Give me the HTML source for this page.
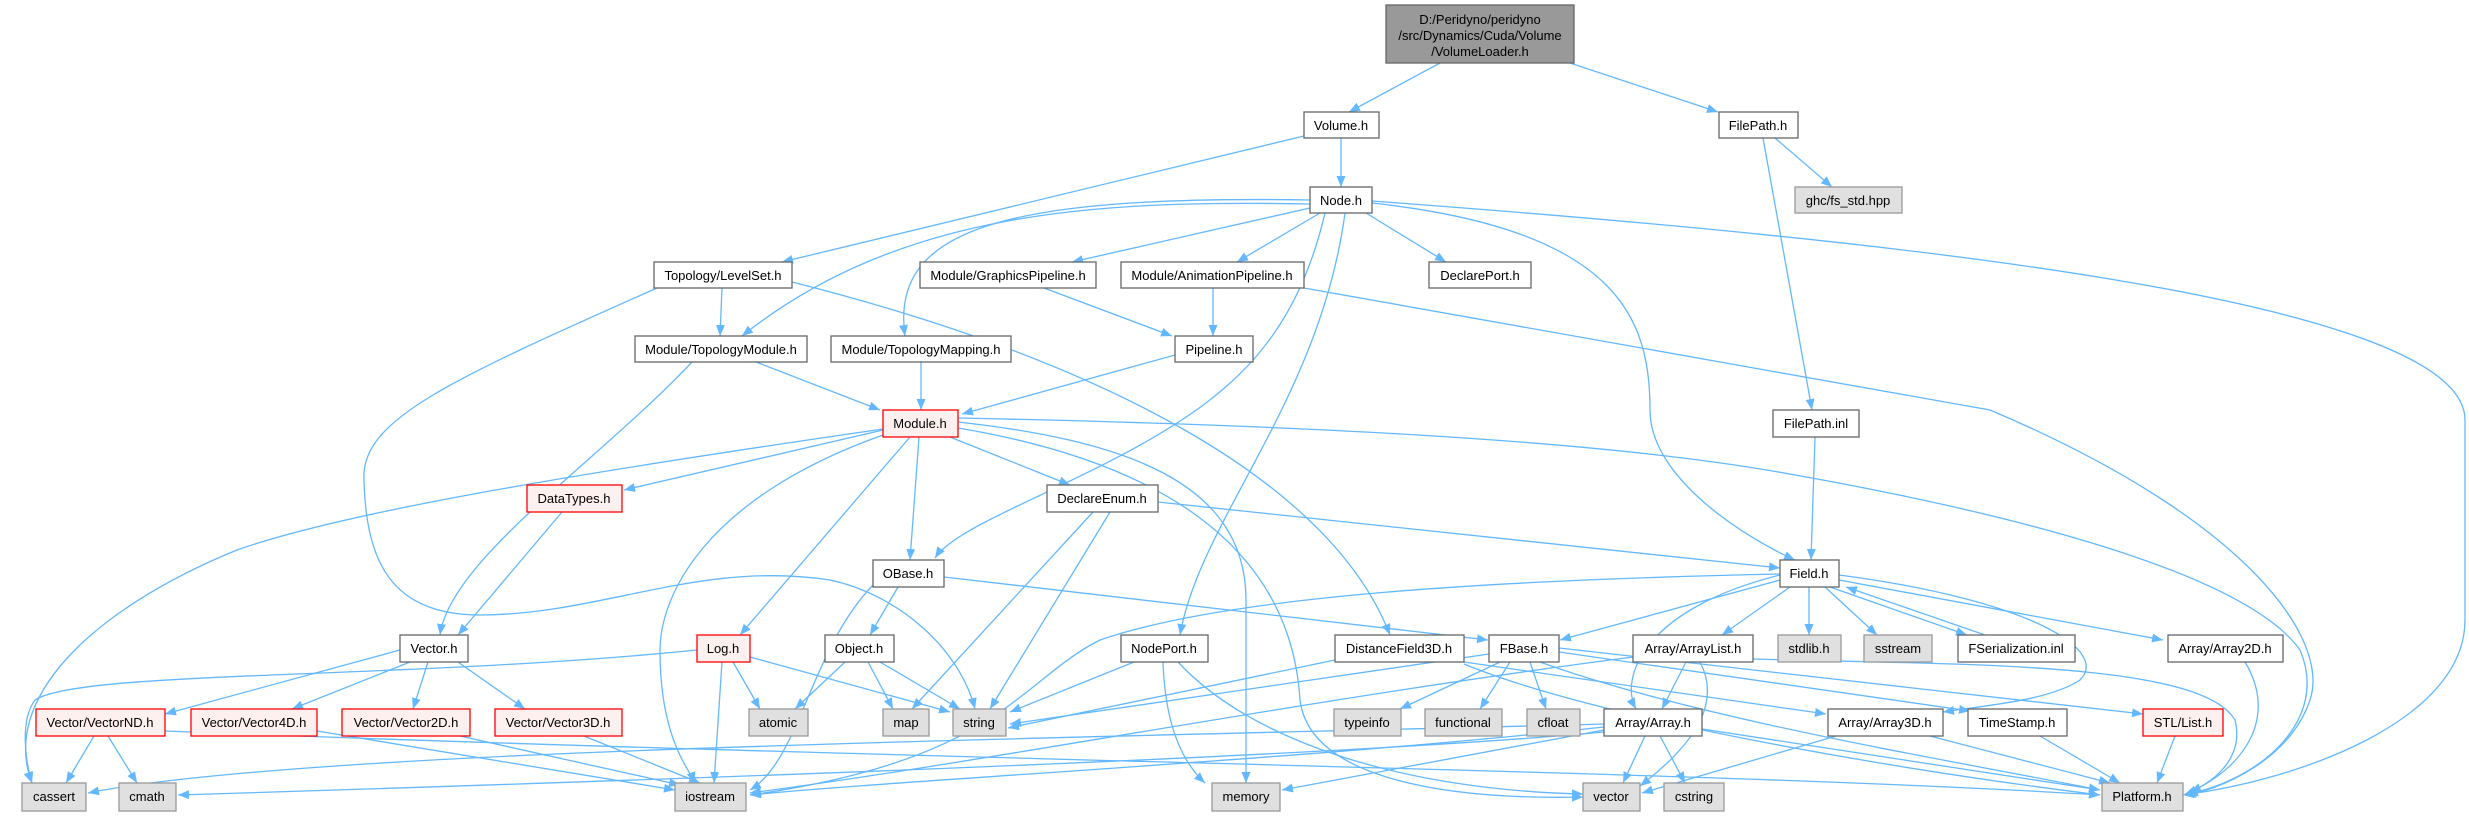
<!DOCTYPE html>
<html><head><meta charset="utf-8"><style>
html,body{margin:0;padding:0;background:#fff;}
svg{display:block;}
text{font-family:"Liberation Sans",sans-serif;font-size:13px;fill:#000;}
.e{fill:none;stroke:#63b8ff;stroke-width:1.3;marker-end:url(#a);}
.n rect{fill:#fff;stroke:#666;stroke-width:1.3;}
.r rect{fill:#fff0f0;stroke:#ff0000;stroke-width:1.3;}
.g rect{fill:#e0e0e0;stroke:#999;stroke-width:1.3;}
</style></head><body>
<svg width="2469" height="816" viewBox="0 0 2469 816" xmlns="http://www.w3.org/2000/svg">
<defs><marker id="a" markerUnits="userSpaceOnUse" markerWidth="12" markerHeight="9" refX="11" refY="4.5" orient="auto"><path d="M0,0 L11,4.5 L0,9 z" fill="#63b8ff"/></marker></defs>
<g>
<path class="e" d="M1440,63 L1349,112"/>
<path class="e" d="M1570,63 L1718,112"/>
<path class="e" d="M1304,136 L782,262"/>
<path class="e" d="M1341,138 L1341,187"/>
<path class="e" d="M1775,138 L1832,187"/>
<path class="e" d="M1763,138 L1812,410"/>
<path class="e" d="M1310,208 L1072,262"/>
<path class="e" d="M1320,213 L1237,262"/>
<path class="e" d="M1366,213 L1446,262"/>
<path class="e" d="M1310,204 C1100,200 900,210 742,336"/>
<path class="e" d="M1310,200 C1000,195 890,230 905,336"/>
<path class="e" d="M1325,213 C1300,320 1250,370 1202,406 C1100,480 960,520 935,558"/>
<path class="e" d="M1345,213 C1320,400 1200,520 1180,635"/>
<path class="e" d="M1372,203 C1620,230 1650,320 1650,410 C1650,480 1750,540 1795,560"/>
<path class="e" d="M1372,201 C1900,240 2465,300 2465,420 L2465,620 C2465,720 2300,780 2183,795"/>
<path class="e" d="M722,288 L720,336"/>
<path class="e" d="M657,288 C450,380 360,420 364,480 C366,560 390,615 480,615 C600,615 700,560 830,580 C900,595 960,650 975,709"/>
<path class="e" d="M792,282 C1100,360 1330,480 1390,635"/>
<path class="e" d="M1044,288 L1172,336"/>
<path class="e" d="M1213,288 L1213,336"/>
<path class="e" d="M1304,288 L1990,410 C2250,520 2330,640 2310,700 C2290,760 2220,790 2185,795"/>
<path class="e" d="M756,362 L880,410"/>
<path class="e" d="M692,362 C600,460 450,560 440,635"/>
<path class="e" d="M921,362 L921,410"/>
<path class="e" d="M1175,355 L962,414"/>
<path class="e" d="M1815,437 L1811,560"/>
<path class="e" d="M883,430 L624,490"/>
<path class="e" d="M950,437 L1070,485"/>
<path class="e" d="M919,437 L910,560"/>
<path class="e" d="M910,437 L740,635"/>
<path class="e" d="M883,429 C600,470 350,510 237,550 C90,610 0,700 32,783"/>
<path class="e" d="M883,435 C700,500 660,600 660,650 C660,740 690,770 695,783"/>
<path class="e" d="M958,422 C1120,440 1246,480 1246,600 L1246,783"/>
<path class="e" d="M958,428 C1150,460 1290,540 1300,700 C1310,780 1450,800 1583,797"/>
<path class="e" d="M958,418 C1300,425 1600,440 1784,473 C2050,520 2250,580 2300,650 C2330,720 2260,780 2187,794"/>
<path class="e" d="M562,512 L458,635"/>
<path class="e" d="M1158,502 L1780,568"/>
<path class="e" d="M1093,512 L912,709"/>
<path class="e" d="M1110,512 L990,709"/>
<path class="e" d="M898,587 L870,635"/>
<path class="e" d="M944,577 L1488,640"/>
<path class="e" d="M873,585 C810,650 800,760 750,790"/>
<path class="e" d="M400,650 L165,714"/>
<path class="e" d="M410,662 L292,709"/>
<path class="e" d="M428,662 L413,709"/>
<path class="e" d="M458,662 L525,709"/>
<path class="e" d="M697,650 C400,680 80,670 35,700 C20,720 25,760 32,783"/>
<path class="e" d="M733,662 L760,709"/>
<path class="e" d="M722,662 L714,783"/>
<path class="e" d="M750,657 L950,712"/>
<path class="e" d="M845,662 L795,709"/>
<path class="e" d="M868,662 L893,709"/>
<path class="e" d="M880,662 L960,709"/>
<path class="e" d="M1134,662 L1010,712"/>
<path class="e" d="M1163,662 C1165,720 1180,760 1205,783"/>
<path class="e" d="M1178,662 C1250,740 1400,790 1583,794"/>
<path class="e" d="M1335,660 L1008,728"/>
<path class="e" d="M1464,662 L1826,714"/>
<path class="e" d="M1464,664 C1600,720 1900,770 2100,795"/>
<path class="e" d="M1780,580 L1560,640"/>
<path class="e" d="M1790,587 L1722,635"/>
<path class="e" d="M1809,587 L1809,635"/>
<path class="e" d="M1825,587 L1877,635"/>
<path class="e" d="M1830,587 L1967,635"/>
<path class="e" d="M1985,635 L1846,587"/>
<path class="e" d="M1839,580 L2163,640"/>
<path class="e" d="M1780,575 C1640,610 1620,680 1636,709"/>
<path class="e" d="M1839,575 C2030,600 2110,650 2080,680 C2050,700 1990,705 1943,712"/>
<path class="e" d="M1780,574 C1500,580 1230,595 1100,640 C1020,680 1000,760 750,795"/>
<path class="e" d="M1500,662 L1400,709"/>
<path class="e" d="M1510,662 L1480,709"/>
<path class="e" d="M1530,662 L1546,709"/>
<path class="e" d="M1489,654 L1010,724"/>
<path class="e" d="M1559,652 L1970,711"/>
<path class="e" d="M1559,648 L2143,714"/>
<path class="e" d="M1540,662 C1700,720 1950,760 2100,790"/>
<path class="e" d="M1686,662 L1662,709"/>
<path class="e" d="M1700,662 C1720,700 1700,740 1640,786"/>
<path class="e" d="M1753,659 C1950,665 2200,660 2235,720 C2245,760 2210,785 2185,794"/>
<path class="e" d="M1633,657 C1300,700 1000,760 750,793"/>
<path class="e" d="M1645,736 L1623,783"/>
<path class="e" d="M1660,736 L1685,783"/>
<path class="e" d="M1604,730 L1282,790"/>
<path class="e" d="M1604,727 C1300,760 900,780 750,795"/>
<path class="e" d="M1604,724 C1000,740 300,750 88,793"/>
<path class="e" d="M1604,732 C1300,760 500,785 178,795"/>
<path class="e" d="M1702,729 L2100,790"/>
<path class="e" d="M1836,736 L1642,793"/>
<path class="e" d="M1930,736 L2110,783"/>
<path class="e" d="M2040,736 L2120,783"/>
<path class="e" d="M2175,736 L2157,783"/>
<path class="e" d="M2245,662 C2280,720 2240,770 2190,792"/>
<path class="e" d="M94,736 L66,783"/>
<path class="e" d="M108,736 L137,783"/>
<path class="e" d="M165,731 C900,760 1700,770 2100,795"/>
<path class="e" d="M317,731 L675,790"/>
<path class="e" d="M460,736 L680,785"/>
<path class="e" d="M584,736 L700,783"/>
</g>
<g text-anchor="middle">
<g><rect x="1386" y="5" width="188" height="58" fill="#999" stroke="#666" stroke-width="1.3"/><text x="1480" y="24">D:/Peridyno/peridyno</text><text x="1480" y="40">/src/Dynamics/Cuda/Volume</text><text x="1480" y="56">/VolumeLoader.h</text></g>
<g class="n"><rect x="1304" y="112" width="75" height="26"/><text x="1341" y="130">Volume.h</text></g>
<g class="n"><rect x="1719" y="112" width="79" height="26"/><text x="1758" y="130">FilePath.h</text></g>
<g class="n"><rect x="1310" y="187" width="62" height="26"/><text x="1341" y="205">Node.h</text></g>
<g class="g"><rect x="1795" y="187" width="107" height="26"/><text x="1848" y="205">ghc/fs_std.hpp</text></g>
<g class="n"><rect x="654" y="262" width="138" height="26"/><text x="723" y="280">Topology/LevelSet.h</text></g>
<g class="n"><rect x="920" y="262" width="176" height="26"/><text x="1008" y="280">Module/GraphicsPipeline.h</text></g>
<g class="n"><rect x="1121" y="262" width="183" height="26"/><text x="1212" y="280">Module/AnimationPipeline.h</text></g>
<g class="n"><rect x="1429" y="262" width="102" height="26"/><text x="1480" y="280">DeclarePort.h</text></g>
<g class="n"><rect x="635" y="336" width="172" height="26"/><text x="721" y="354">Module/TopologyModule.h</text></g>
<g class="n"><rect x="831" y="336" width="180" height="26"/><text x="921" y="354">Module/TopologyMapping.h</text></g>
<g class="n"><rect x="1175" y="336" width="78" height="26"/><text x="1214" y="354">Pipeline.h</text></g>
<g class="n"><rect x="1773" y="410" width="86" height="27"/><text x="1816" y="428">FilePath.inl</text></g>
<g class="r"><rect x="883" y="410" width="75" height="27"/><text x="920" y="428">Module.h</text></g>
<g class="r"><rect x="527" y="485" width="95" height="27"/><text x="574" y="503">DataTypes.h</text></g>
<g class="n"><rect x="1047" y="485" width="111" height="27"/><text x="1102" y="503">DeclareEnum.h</text></g>
<g class="n"><rect x="873" y="560" width="71" height="27"/><text x="908" y="578">OBase.h</text></g>
<g class="n"><rect x="1780" y="560" width="59" height="27"/><text x="1809" y="578">Field.h</text></g>
<g class="n"><rect x="400" y="635" width="68" height="27"/><text x="434" y="653">Vector.h</text></g>
<g class="r"><rect x="697" y="635" width="53" height="27"/><text x="723" y="653">Log.h</text></g>
<g class="n"><rect x="825" y="635" width="69" height="27"/><text x="859" y="653">Object.h</text></g>
<g class="n"><rect x="1121" y="635" width="87" height="27"/><text x="1164" y="653">NodePort.h</text></g>
<g class="n"><rect x="1335" y="635" width="129" height="27"/><text x="1399" y="653">DistanceField3D.h</text></g>
<g class="n"><rect x="1489" y="635" width="70" height="27"/><text x="1524" y="653">FBase.h</text></g>
<g class="n"><rect x="1633" y="635" width="120" height="27"/><text x="1693" y="653">Array/ArrayList.h</text></g>
<g class="g"><rect x="1778" y="635" width="63" height="27"/><text x="1809" y="653">stdlib.h</text></g>
<g class="g"><rect x="1864" y="635" width="68" height="27"/><text x="1898" y="653">sstream</text></g>
<g class="n"><rect x="1958" y="635" width="117" height="27"/><text x="2016" y="653">FSerialization.inl</text></g>
<g class="n"><rect x="2168" y="635" width="115" height="27"/><text x="2225" y="653">Array/Array2D.h</text></g>
<g class="r"><rect x="36" y="709" width="129" height="27"/><text x="100" y="727">Vector/VectorND.h</text></g>
<g class="r"><rect x="191" y="709" width="126" height="27"/><text x="254" y="727">Vector/Vector4D.h</text></g>
<g class="r"><rect x="342" y="709" width="128" height="27"/><text x="406" y="727">Vector/Vector2D.h</text></g>
<g class="r"><rect x="495" y="709" width="127" height="27"/><text x="558" y="727">Vector/Vector3D.h</text></g>
<g class="g"><rect x="749" y="709" width="59" height="27"/><text x="778" y="727">atomic</text></g>
<g class="g"><rect x="883" y="709" width="46" height="27"/><text x="906" y="727">map</text></g>
<g class="g"><rect x="953" y="709" width="53" height="27"/><text x="979" y="727">string</text></g>
<g class="g"><rect x="1334" y="709" width="67" height="27"/><text x="1367" y="727">typeinfo</text></g>
<g class="g"><rect x="1425" y="709" width="77" height="27"/><text x="1463" y="727">functional</text></g>
<g class="g"><rect x="1527" y="709" width="53" height="27"/><text x="1553" y="727">cfloat</text></g>
<g class="n"><rect x="1604" y="709" width="98" height="27"/><text x="1653" y="727">Array/Array.h</text></g>
<g class="n"><rect x="1828" y="709" width="115" height="27"/><text x="1885" y="727">Array/Array3D.h</text></g>
<g class="n"><rect x="1968" y="709" width="99" height="27"/><text x="2017" y="727">TimeStamp.h</text></g>
<g class="r"><rect x="2143" y="709" width="80" height="27"/><text x="2183" y="727">STL/List.h</text></g>
<g class="g"><rect x="22" y="783" width="64" height="28"/><text x="54" y="801">cassert</text></g>
<g class="g"><rect x="119" y="783" width="57" height="28"/><text x="147" y="801">cmath</text></g>
<g class="g"><rect x="675" y="783" width="71" height="28"/><text x="710" y="801">iostream</text></g>
<g class="g"><rect x="1212" y="783" width="68" height="28"/><text x="1246" y="801">memory</text></g>
<g class="g"><rect x="1583" y="783" width="57" height="28"/><text x="1611" y="801">vector</text></g>
<g class="g"><rect x="1664" y="783" width="60" height="28"/><text x="1694" y="801">cstring</text></g>
<g class="g"><rect x="2102" y="783" width="81" height="28"/><text x="2142" y="801">Platform.h</text></g>
</g>
</svg>
</body></html>
